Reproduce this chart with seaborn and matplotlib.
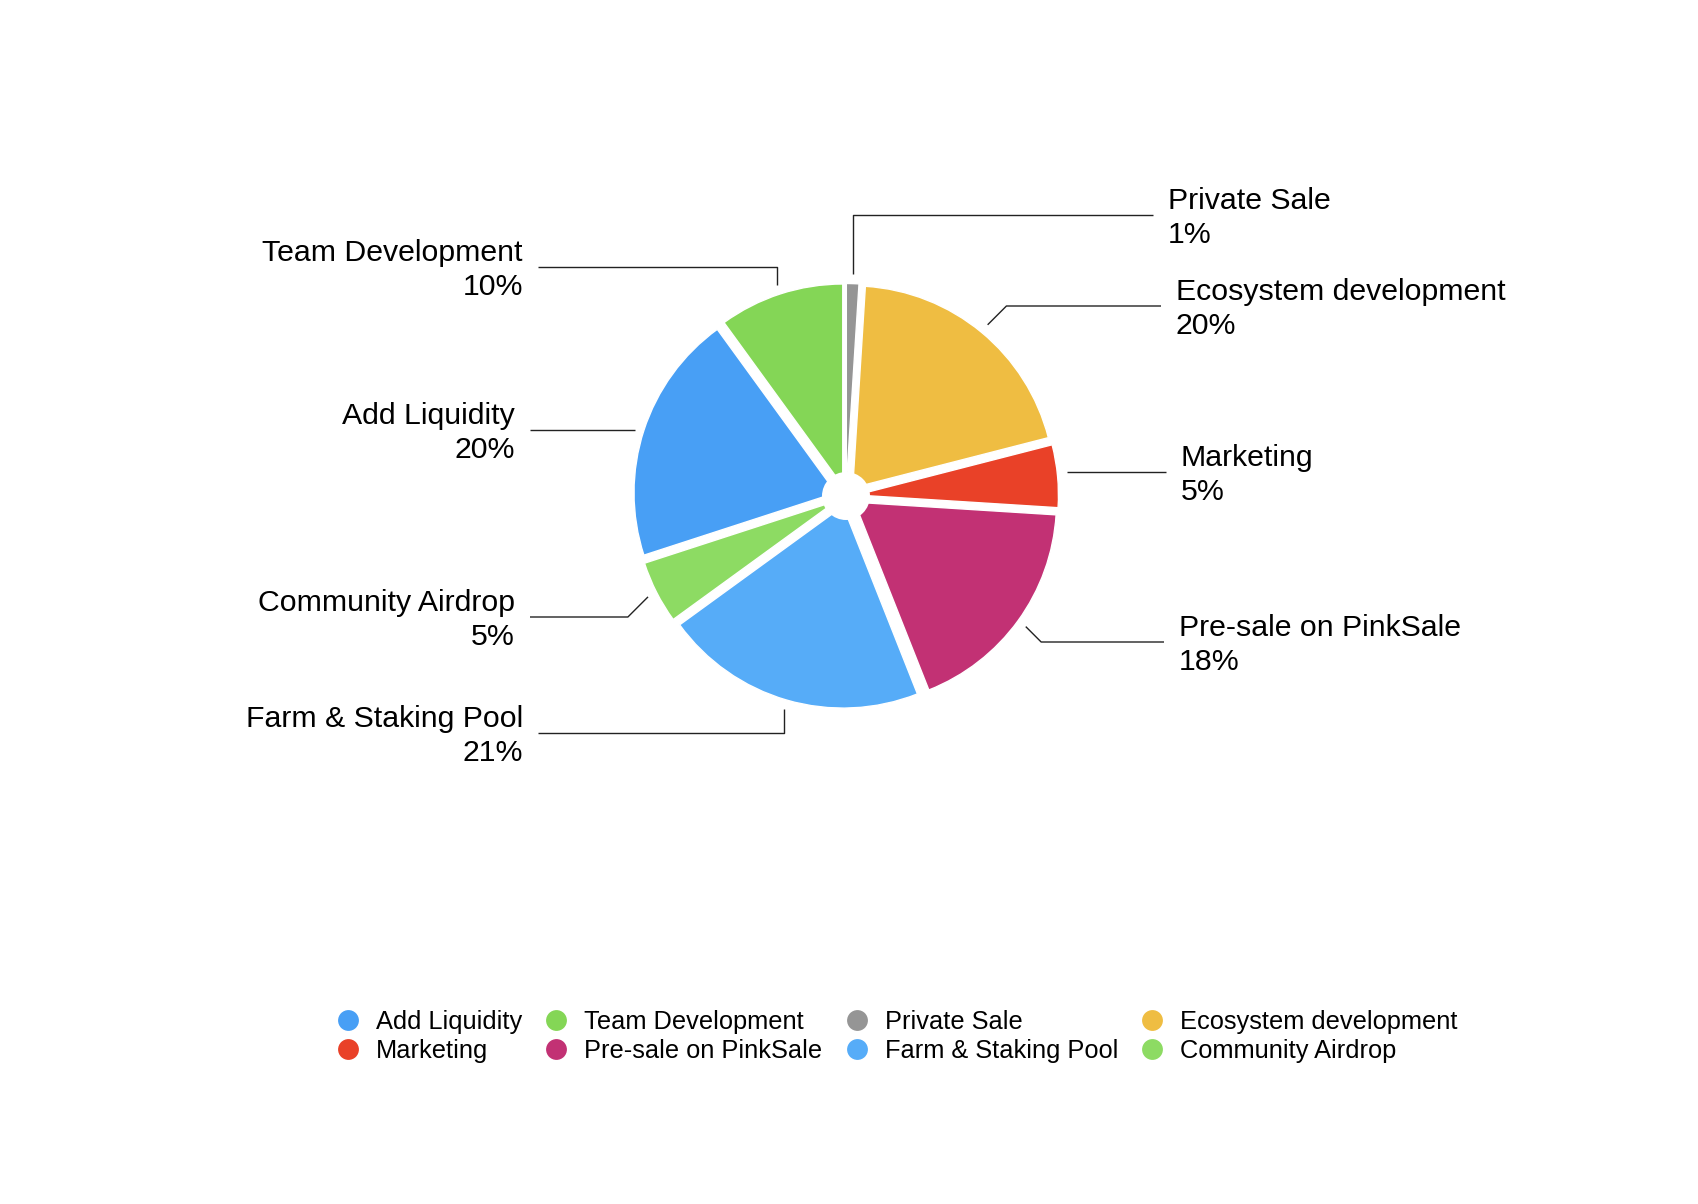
import numpy as np
import matplotlib
matplotlib.use("Agg")
import matplotlib.pyplot as plt
from matplotlib.lines import Line2D
from matplotlib.patches import Circle
import seaborn as sns

# slices, clockwise from 12 o'clock
categories = ["Private Sale", "Ecosystem development", "Marketing", "Pre-sale on PinkSale",
              "Farm & Staking Pool", "Community Airdrop", "Add Liquidity", "Team Development"]
shares = [1, 20, 5, 18, 21, 5, 20, 10]
hex_colors = ["#959595", "#EFBD42", "#E94128", "#C23174",
              "#56ACF8", "#8DDB63", "#489FF5", "#84D656"]

# legend reading order (row by row)
legend_order = ["Add Liquidity", "Team Development", "Private Sale", "Ecosystem development",
                "Marketing", "Pre-sale on PinkSale", "Farm & Staking Pool", "Community Airdrop"]

# label layout (pixel space, y downwards): leader line height, line end x, elbow kind
label_line_y = [215, 306, 472, 642, 733, 617, 430, 267]
label_line_x = [1153, 1161, 1166, 1164, 538, 530, 530, 538]
label_elbow = ["v", "d", "", "d", "v", "d", "", "v"]

W, H = 1698, 1204
center = (846, 496)
radius = 202

sns.set_theme(style="white")
plt.rcParams["font.family"] = ["Liberation Sans", "DejaVu Sans"]
palette = sns.color_palette(hex_colors)

fig = plt.figure(figsize=(W / 100, H / 100), dpi=100)
ax = fig.add_axes([0, 0, 1, 1])

# explode is in data units here (radius is in pixels)
wedges, _ = ax.pie(shares, colors=palette, startangle=-90, counterclock=True,
                   explode=[0.052 * radius] * len(shares), radius=radius, center=center,
                   wedgeprops=dict(linewidth=1, edgecolor="white"))
ax.add_patch(Circle(center, 24, facecolor="white", edgecolor="none", zorder=5))

ax.set_xlim(0, W)
ax.set_ylim(H, 0)
ax.set_aspect("equal")
ax.axis("off")

for w, name, val, ly, lx, kind in zip(wedges, categories, shares,
                                      label_line_y, label_line_x, label_elbow):
    mid = np.deg2rad((w.theta1 + w.theta2) / 2)
    x0 = center[0] + 1.1 * radius * np.cos(mid)
    y0 = center[1] + 1.1 * radius * np.sin(mid)
    right = lx > center[0]
    sgn = 1 if right else -1
    if kind == "v":
        xs, ys = [x0, x0, lx], [y0, ly, ly]
    elif kind == "d":
        ex = x0 + sgn * abs(ly - y0)
        xs, ys = [x0, ex, lx], [y0, ly, ly]
    else:
        xs, ys = [x0, lx], [ly, ly]
    ax.plot(xs, ys, color="#222222", lw=1.0, solid_capstyle="butt")
    ax.text(lx + sgn * 15, ly + 3, f"{name}\n{val}%", fontsize=21.8,
            ha="left" if right else "right", va="center",
            multialignment="left" if right else "right", color="black",
            linespacing=1.27)

color_of = dict(zip(categories, palette))
# matplotlib fills legend columns first, so reorder to get row-major reading
ncol = 4
nrow = len(legend_order) // ncol
col_major = [legend_order[r * ncol + c] for c in range(ncol) for r in range(nrow)]
handles = [Line2D([], [], marker="o", linestyle="none", markersize=15,
                  markerfacecolor=color_of[n], markeredgecolor="none") for n in col_major]
fig.legend(handles, col_major, loc="center", bbox_to_anchor=(0.528, 0.139),
           ncol=ncol, frameon=False, fontsize=18.3, handlelength=1.0,
           handletextpad=0.6, columnspacing=0.85, labelspacing=0.2,
           labelcolor="black")

fig.savefig("out.png", dpi=100, facecolor="white")
